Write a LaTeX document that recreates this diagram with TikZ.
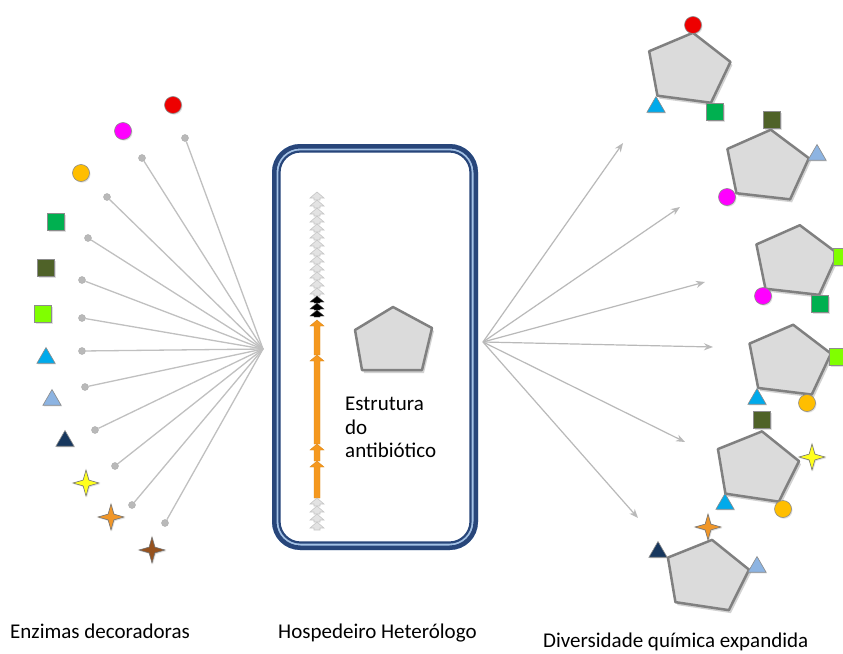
\documentclass[tikz,border=0pt]{standalone}
\usepackage{fontspec}
\setmainfont{Carlito}
\usetikzlibrary{shapes.geometric, arrows.meta, shadows}

\definecolor{boxblue}{RGB}{40,70,122}
\definecolor{boxlight}{RGB}{165,195,230}
\definecolor{pentafill}{RGB}{219,219,219}
\definecolor{pentaline}{RGB}{128,128,128}
\definecolor{fanline}{RGB}{192,192,192}
\definecolor{genorange}{RGB}{245,152,30}
\definecolor{cred}{RGB}{238,0,0}
\definecolor{cmagenta}{RGB}{255,0,255}
\definecolor{camber}{RGB}{255,190,0}
\definecolor{cgreen}{RGB}{0,176,80}
\definecolor{colive}{RGB}{79,98,40}
\definecolor{clime}{RGB}{128,255,0}
\definecolor{ccyan}{RGB}{0,170,235}
\definecolor{clightblue}{RGB}{141,180,226}
\definecolor{cnavy}{RGB}{23,55,94}
\definecolor{cyellow}{RGB}{255,255,30}
\definecolor{corange}{RGB}{240,150,40}
\definecolor{cbrown}{RGB}{150,82,30}

\tikzset{
  deco/.style={draw=black!45, line width=0.6pt, inner sep=0pt, drop shadow={opacity=0.25, shadow xshift=1pt, shadow yshift=-1.2pt}},
  ball/.style={deco, circle, minimum size=17pt},
  sqr/.style={deco, rectangle, minimum size=17pt},
  tri/.style={deco, regular polygon, regular polygon sides=3, minimum size=21pt},
  spark/.style={deco, star, star points=4, star point ratio=3.2, draw=black!55, minimum size=26pt},
  pinhead/.style={circle, fill=gray!55, draw=gray!65, inner sep=0pt, minimum size=7pt},
  fan/.style={fanline, line width=1.3pt},
  spread/.style={gray!55, line width=1.2pt, -{Stealth[length=9pt, width=7pt]}},
  penta/.style={fill=pentafill, draw=pentaline, line width=2.5pt, line join=round, drop shadow={opacity=0.35, shadow xshift=2pt, shadow yshift=-3pt}},
  grayg/.style={fill=gray!22, draw=gray!45, line width=0.6pt},
  blackg/.style={fill=black, draw=black!70, line width=0.4pt},
  orangeg/.style={fill=genorange, draw=genorange!90!black, line width=0.4pt},
  capt/.style={inner sep=0pt, font=\fontsize{21}{23.5}\selectfont},
  pics/pentagon/.style={code={\draw[penta] (0,-34) -- (-41,-10) -- (-27,33) -- (27,33) -- (41,-10) -- cycle;}}
}

\newcommand{\gene}[3]{\filldraw[#3] (314,#1) -- (314,#2+6) -- (310,#2+6) -- (317,#2) -- (324,#2+6) -- (320,#2+6) -- (320,#1) -- cycle;}

\begin{document}
\begin{tikzpicture}[x=1pt, y=-1pt]

        \path[use as bounding box, fill=white] (0,0) rectangle (843,653);

        % enzymes
        \coordinate (hub) at (263,349);
        \foreach \n/\x/\y in {1/185/138, 2/142/158, 3/107/197, 4/88/238, 5/82/280, 6/82/318,
                              7/82/351, 8/85/387, 9/95/430, 10/115/466, 11/132/505, 12/165/523} {
            \node[pinhead] (d\n) at (\x,\y) {};
            \draw[fan] (d\n) -- (hub);
        }

        \node[ball, fill=cred] (redL) at (173,105) {};
        \node[ball, fill=cmagenta] (magentaL) at (123,131) {};
        \node[ball, fill=camber] (amberL) at (81,173) {};
        \node[sqr, fill=cgreen] (greenL) at (56,222) {};
        \node[sqr, fill=colive] (oliveL) at (46,268) {};
        \node[sqr, fill=clime] (limeL) at (43,314) {};
        \node[tri, fill=ccyan] (cyanL) at (46,358) {};
        \node[tri, fill=clightblue] (lightblueL) at (52,400) {};
        \node[tri, fill=cnavy] (navyL) at (65,441) {};
        \node[spark, fill=cyellow] (yellowL) at (86,483) {};
        \node[spark, fill=corange] (orangeL) at (111,517) {};
        \node[spark, fill=cbrown] (brownL) at (152,550) {};

        % host
        \node[rectangle, draw=boxlight, line width=8pt, rounded corners=24pt, minimum width=198pt, minimum height=398pt] (hostglow) at (375,347) {};
        \node[rectangle, draw=boxblue, line width=4.5pt, rounded corners=26pt, minimum width=201.5pt, minimum height=401.5pt] (hostout) at (375,347) {};
        \node[rectangle, draw=boxblue, line width=2.2pt, rounded corners=21pt, minimum width=191pt, minimum height=391pt] (hostin) at (375,347) {};

        \foreach \y in {192,200,...,288} {\gene{\y+8}{\y}{grayg}}
        \foreach \y in {296,303,310} {\gene{\y+7}{\y}{blackg}}
        \gene{355}{320}{orangeg}
        \gene{444}{355}{orangeg}
        \gene{461}{444}{orangeg}
        \gene{498}{461}{orangeg}
        \foreach \y in {498,506,514,522} {\gene{\y+8}{\y}{grayg}}

        \draw[penta] (393,307) -- (355,330) -- (362,370) -- (422,370) -- (432,328) -- cycle;
        \node[capt, anchor=north west, align=left] (struct) at (345,397) {Estrutura\\do\\antibiótico};

        % products
        \coordinate (src) at (483,342);
        \foreach \n/\x/\y in {1/623/143, 2/680/207, 3/705/282, 4/713/347, 5/685/442, 6/638/518} {
            \coordinate (t\n) at (\x,\y);
            \draw[spread] (src) -- (t\n);
        }

        \pic[rotate=-7.5] (p1) at (688.5,66.5) {pentagon};
        \pic[rotate=-6.5] (p2) at (767,163.5) {pentagon};
        \pic[rotate=-6.5] (p3) at (796,259) {pentagon};
        \pic[rotate=-7] (p4) at (789,358.5) {pentagon};
        \pic[rotate=-8.5] (p5) at (757,465) {pentagon};
        \pic[rotate=-8.5] (p6) at (707,573.5) {pentagon};

        \node[ball, fill=cred] (redA) at (693,25) {};
        \node[tri, fill=ccyan] (cyanA) at (656,107) {};
        \node[sqr, fill=cgreen] (greenA) at (715,112) {};

        \node[sqr, fill=colive] (oliveB) at (772,120) {};
        \node[tri, fill=clightblue] (lightblueB) at (817,155) {};
        \node[ball, fill=cmagenta] (magentaB) at (727,197) {};

        \node[sqr, fill=clime] (limeC) at (842,257) {};
        \node[ball, fill=cmagenta] (magentaC) at (763,296) {};
        \node[sqr, fill=cgreen] (greenC) at (820,304) {};

        \node[sqr, fill=clime] (limeD) at (838,357) {};
        \node[tri, fill=ccyan] (cyanD) at (757,399) {};
        \node[ball, fill=camber] (amberD) at (807,403) {};

        \node[sqr, fill=colive] (oliveE) at (762,420) {};
        \node[spark, fill=cyellow] (yellowE) at (812,457) {};
        \node[tri, fill=ccyan] (cyanE) at (725,504) {};
        \node[ball, fill=camber] (amberE) at (783,509) {};

        \node[spark, fill=corange] (orangeF) at (708,527) {};
        \node[tri, fill=cnavy] (navyF) at (658,552) {};
        \node[tri, fill=clightblue] (lightblueF) at (757,567) {};

        % captions
        \node[capt, anchor=base west] (enzimas) at (10,638) {Enzimas decoradoras};
        \node[capt, anchor=base west] (hospedeiro) at (278,638) {Hospedeiro Heterólogo};
        \node[capt, anchor=base west] (diversidade) at (543,647) {Diversidade química expandida};

\end{tikzpicture}
\end{document}
